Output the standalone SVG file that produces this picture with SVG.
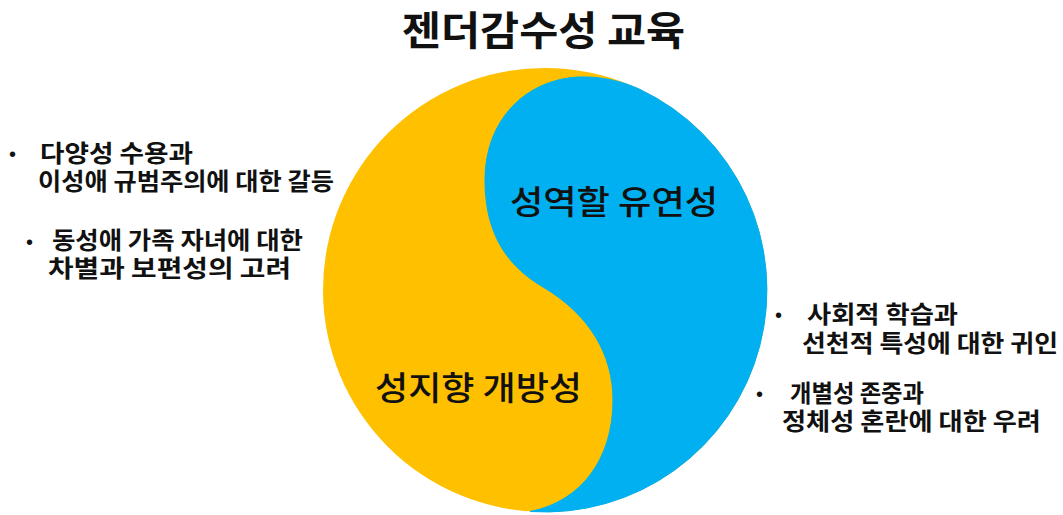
<svg xmlns="http://www.w3.org/2000/svg" width="1063" height="515" viewBox="0 0 1063 515">
  <style>
    .t { font-family: "Noto Sans CJK KR", "Noto Sans", sans-serif; fill: #111; }
    .title { font-size: 40px; font-weight: 700; }
    .big { font-size: 33px; font-weight: 500; }
    .side { font-size: 24px; font-weight: 700; }
    .bul { font-family: "Liberation Sans", sans-serif; font-size: 20px; fill: #111; }
  </style>
  <rect width="1063" height="515" fill="#ffffff"/>
  <g id="title">
    <text class="t title" x="402" y="45" textLength="283" lengthAdjust="spacingAndGlyphs">젠더감수성 교육</text>
  </g>
  <g id="yinyang">
    <g id="orange-half">
      <circle cx="545" cy="290" r="222" fill="#FFC000"/>
    </g>
    <g id="blue-half">
      <path d="M485,180 C485,120 525,80 578,77 C603,76 624,82 640,89.4 A222,222 0 0 1 530,511.5 C580,502 613,460 613,400 C613,355 590,315 543,287 C500,262 485,225 485,180 Z" fill="#00B0F0" stroke="#00B0F0" stroke-width="1"/>
    </g>
  </g>
  <g id="label-flex">
    <text class="t big" x="510" y="214" textLength="208" lengthAdjust="spacingAndGlyphs">성역할 유연성</text>
  </g>
  <g id="label-open">
    <text class="t big" x="375" y="400" textLength="207" lengthAdjust="spacingAndGlyphs">성지향 개방성</text>
  </g>
  <g id="left-item-1">
    <text class="bul" x="9" y="161">•</text>
    <text class="t side" x="40" y="162" textLength="153" lengthAdjust="spacingAndGlyphs">다양성 수용과</text>
    <text class="t side" x="38" y="190" textLength="296" lengthAdjust="spacingAndGlyphs">이성애 규범주의에 대한 갈등</text>
  </g>
  <g id="left-item-2">
    <text class="bul" x="26" y="249">•</text>
    <text class="t side" x="52" y="249" textLength="251" lengthAdjust="spacingAndGlyphs">동성애 가족 자녀에 대한</text>
    <text class="t side" x="48" y="277" textLength="243" lengthAdjust="spacingAndGlyphs">차별과 보편성의 고려</text>
  </g>
  <g id="right-item-1">
    <text class="bul" x="775" y="322">•</text>
    <text class="t side" x="807" y="323" textLength="151" lengthAdjust="spacingAndGlyphs">사회적 학습과</text>
    <text class="t side" x="802" y="352" textLength="256" lengthAdjust="spacingAndGlyphs">선천적 특성에 대한 귀인</text>
  </g>
  <g id="right-item-2">
    <text class="bul" x="756" y="401">•</text>
    <text class="t side" x="790" y="402" textLength="134" lengthAdjust="spacingAndGlyphs">개별성 존중과</text>
    <text class="t side" x="782" y="430" textLength="259" lengthAdjust="spacingAndGlyphs">정체성 혼란에 대한 우려</text>
  </g>
</svg>
